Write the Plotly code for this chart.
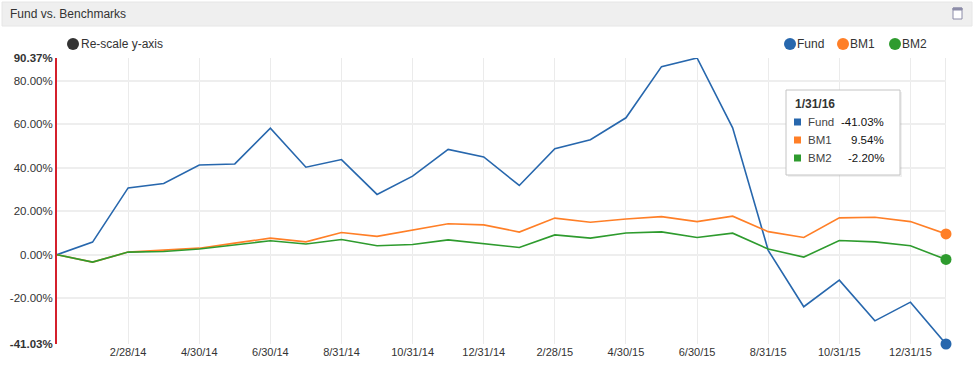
import plotly.graph_objects as go

# ---------------- data ----------------
dates = ["12/31/13", "1/31/14", "2/28/14", "3/31/14", "4/30/14", "5/31/14", "6/30/14",
         "7/31/14", "8/31/14", "9/30/14", "10/31/14", "11/30/14", "12/31/14", "1/31/15",
         "2/28/15", "3/31/15", "4/30/15", "5/31/15", "6/30/15", "7/31/15", "8/31/15",
         "9/30/15", "10/31/15", "11/30/15", "12/31/15", "1/31/16"]
fund = [0, 5.8, 30.7, 32.7, 41.2, 41.7, 58.1, 40.2, 43.7, 27.7, 36.1, 48.4, 44.9, 31.8,
        48.7, 52.8, 62.9, 86.4, 90.37, 58.3, 2.0, -23.9, -11.7, -30.4, -21.8, -41.03]
bm1 = [0, -3.4, 1.2, 2.0, 3.0, 5.3, 7.6, 5.9, 10.2, 8.4, 11.3, 14.2, 13.7, 10.4,
       16.8, 14.9, 16.4, 17.5, 15.2, 17.7, 10.6, 7.9, 16.9, 17.2, 15.2, 9.54]
bm2 = [0, -3.4, 1.2, 1.5, 2.6, 4.6, 6.4, 4.9, 7.0, 4.1, 4.7, 6.8, 5.2, 3.3,
       9.1, 7.6, 10.0, 10.5, 7.9, 9.9, 2.6, -1.1, 6.5, 5.9, 4.1, -2.20]
series_names = ["Fund", "BM1", "BM2"]
x_tick_labels = ["2/28/14", "4/30/14", "6/30/14", "8/31/14", "10/31/14", "12/31/14",
                 "2/28/15", "4/30/15", "6/30/15", "8/31/15", "10/31/15", "12/31/15"]
y_tick_vals = [-41.03, -20, 0, 20, 40, 60, 80, 90.37]
title_text = "Fund vs. Benchmarks"
rescale_text = "Re-scale y-axis"

# ---------------- style ----------------
colors = ["#2767ad", "#ff7f27", "#2e9b2e"]
FONT = "Liberation Sans, Arial, sans-serif"
TXT = "#333333"
L, R, T, B = 57, 29, 58, 21
W, H = 975, 365
PW, PH = W - L - R, H - T - B


def px(x):
    return (x - L) / PW


def py(y):
    return (H - B - y) / PH


y_tick_text = []
for v in y_tick_vals:
    s = f"{v:.2f}%"
    if v in (y_tick_vals[0], y_tick_vals[-1]):
        s = f"<b>{s}</b>"
    y_tick_text.append(s)

fig = go.Figure()
for name, vals, c in zip(series_names, [fund, bm1, bm2], colors):
    fig.add_trace(go.Scatter(x=dates, y=vals, mode="lines", name=name,
                             line=dict(color=c, width=1.6), hoverinfo="skip",
                             showlegend=False, cliponaxis=False))
for name, vals, c in zip(series_names, [fund, bm1, bm2], colors):
    fig.add_trace(go.Scatter(x=[dates[-1]], y=[vals[-1]], mode="markers",
                             marker=dict(color=c, size=11), hoverinfo="skip",
                             showlegend=False, cliponaxis=False))

shapes = []
annotations = []

# header bar
shapes.append(dict(type="rect", xref="paper", yref="paper", x0=px(2), x1=px(972),
                   y0=py(26), y1=py(2), fillcolor="#efefef",
                   line=dict(color="#e6e6e6", width=1), layer="below"))
annotations.append(dict(text=title_text, xref="paper", yref="paper", x=px(8), y=py(14),
                        xanchor="left", yanchor="middle", showarrow=False,
                        font=dict(family=FONT, size=12, color=TXT)))
# window icon
shapes.append(dict(type="rect", xref="paper", yref="paper", x0=px(953), x1=px(962),
                   y0=py(19), y1=py(8), fillcolor="white",
                   line=dict(color="#8c8ca8", width=1)))
shapes.append(dict(type="rect", xref="paper", yref="paper", x0=px(953), x1=px(962),
                   y0=py(10), y1=py(8), fillcolor="#8c8ca8",
                   line=dict(color="#8c8ca8", width=1)))


def circle(xc, yc, r, color):
    return dict(type="circle", xref="paper", yref="paper",
                xsizemode="pixel", ysizemode="pixel",
                xanchor=px(xc), yanchor=py(yc), x0=-r, x1=r, y0=-r, y1=r,
                fillcolor=color, line=dict(width=0))


# re-scale toggle
shapes.append(circle(73, 44, 6, "#333333"))
annotations.append(dict(text=rescale_text, xref="paper", yref="paper", x=px(79), y=py(44),
                        xanchor="left", yanchor="middle", showarrow=False,
                        font=dict(family=FONT, size=12, color=TXT)))

# legend
leg_x = [790, 843, 895]
for name, c, lx in zip(series_names, colors, leg_x):
    shapes.append(circle(lx, 44, 6, c))
    annotations.append(dict(text=name, xref="paper", yref="paper", x=px(lx + 5), y=py(44),
                            xanchor="left", yanchor="middle", showarrow=False,
                            font=dict(family=FONT, size=12, color=TXT)))

# crosshair at last point
shapes.append(dict(type="line", xref="x", yref="paper", x0=dates[-1], x1=dates[-1],
                   y0=0, y1=1, line=dict(color="#d4d4d4", width=1), layer="below"))

# tooltip box
shapes.append(dict(type="rect", xref="paper", yref="paper", x0=px(788), x1=px(902),
                   y0=py(177), y1=py(92), fillcolor="rgba(0,0,0,0.06)", line=dict(width=0)))
shapes.append(dict(type="rect", xref="paper", yref="paper", x0=px(786), x1=px(900),
                   y0=py(175), y1=py(90), fillcolor="white",
                   line=dict(color="#c4c4c4", width=1)))
annotations.append(dict(text=f"<b>{dates[-1]}</b>", xref="paper", yref="paper",
                        x=px(793), y=py(104), xanchor="left", yanchor="middle",
                        showarrow=False, font=dict(family=FONT, size=12, color=TXT)))
row_y = [122, 140, 158]
for name, vals, c, ry in zip(series_names, [fund, bm1, bm2], colors, row_y):
    shapes.append(dict(type="rect", xref="paper", yref="paper",
                       xsizemode="pixel", ysizemode="pixel",
                       xanchor=px(797.5), yanchor=py(ry), x0=-3.5, x1=3.5, y0=-3.5, y1=3.5,
                       fillcolor=c, line=dict(width=0)))
    annotations.append(dict(text=name, xref="paper", yref="paper", x=px(806), y=py(ry),
                            xanchor="left", yanchor="middle", showarrow=False,
                            font=dict(family=FONT, size=11.5, color="#444444")))
    annotations.append(dict(text=f"{vals[-1]:.2f}%", xref="paper", yref="paper",
                            x=px(886), y=py(ry), xanchor="right", yanchor="middle",
                            showarrow=False, font=dict(family=FONT, size=11.5, color="#111111")))

fig.update_layout(
    width=W, height=H,
    margin=dict(l=L, r=R, t=T, b=B, pad=0),
    paper_bgcolor="white", plot_bgcolor="white",
    font=dict(family=FONT, size=11, color=TXT),
    showlegend=False,
    shapes=shapes, annotations=annotations,
    xaxis=dict(type="category", range=[0, len(dates) - 1], tickmode="array",
               tickvals=x_tick_labels, ticktext=x_tick_labels, showgrid=True,
               gridcolor="#ebebeb", gridwidth=1, showline=False, zeroline=False,
               ticks="", tickfont=dict(family=FONT, size=11, color=TXT),
               fixedrange=True, automargin=False),
    yaxis=dict(range=[y_tick_vals[0], y_tick_vals[-1]], tickmode="array",
               tickvals=y_tick_vals, ticktext=y_tick_text, showgrid=True,
               gridcolor="#eeeeee", gridwidth=1.5, zeroline=False, showline=True,
               linecolor="#d4202c", linewidth=2, ticks="",
               tickfont=dict(family=FONT, size=11.5, color=TXT),
               fixedrange=True, automargin=False),
)

fig.write_html("out.html", config={"displayModeBar": False},
               post_script="document.body.style.margin='0';document.body.style.overflow='hidden';")
